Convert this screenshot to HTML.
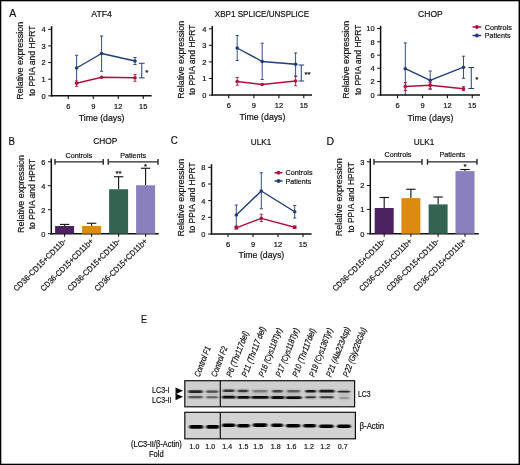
<!DOCTYPE html>
<html lang="en">
<head>
<meta charset="utf-8">
<title>Figure: ATF4, XBP1, CHOP, ULK1 expression and LC3 western blot</title>
<style>
html,body{margin:0;padding:0;background:#fff;}
body{width:520px;height:465px;overflow:hidden;}
svg{display:block;font-family:"Liberation Sans",sans-serif;}
</style>
</head>
<body>
<svg width="520" height="465" viewBox="0 0 520 465">
<rect x="0" y="0" width="520" height="465" fill="#ffffff"/>
<text x="9.30" y="16.90" font-size="11.3" text-anchor="start" fill="#101010" stroke="#101010" stroke-width="0.2" textLength="7.00" lengthAdjust="spacingAndGlyphs">A</text>
<text x="8.60" y="145.00" font-size="11.3" text-anchor="start" fill="#101010" stroke="#101010" stroke-width="0.2" textLength="6.40" lengthAdjust="spacingAndGlyphs">B</text>
<text x="170.70" y="144.40" font-size="11.3" text-anchor="start" fill="#101010" stroke="#101010" stroke-width="0.2" textLength="7.00" lengthAdjust="spacingAndGlyphs">C</text>
<text x="326.60" y="144.70" font-size="11.3" text-anchor="start" fill="#101010" stroke="#101010" stroke-width="0.2" textLength="7.60" lengthAdjust="spacingAndGlyphs">D</text>
<text x="141.00" y="322.50" font-size="11.3" text-anchor="start" fill="#101010" stroke="#101010" stroke-width="0.2" textLength="6.00" lengthAdjust="spacingAndGlyphs">E</text>
<text x="101.60" y="16.80" font-size="9.5" text-anchor="middle" fill="#101010" stroke="#101010" stroke-width="0.2" textLength="20.80" lengthAdjust="spacingAndGlyphs">ATF4</text>
<text x="23.20" y="60.80" font-size="9.5" text-anchor="middle" fill="#101010" stroke="#101010" stroke-width="0.2" textLength="77.80" lengthAdjust="spacingAndGlyphs" transform="rotate(-90 23.20 60.80)">Relative expression</text>
<text x="35.20" y="60.80" font-size="9.5" text-anchor="middle" fill="#101010" stroke="#101010" stroke-width="0.2" textLength="70.60" lengthAdjust="spacingAndGlyphs" transform="rotate(-90 35.20 60.80)">to PPIA and HPRT</text>
<line x1="51.60" y1="26.20" x2="51.60" y2="96.55" stroke="#101010" stroke-width="1.5" stroke-linecap="butt"/>
<line x1="50.85" y1="95.80" x2="151.60" y2="95.80" stroke="#101010" stroke-width="1.5" stroke-linecap="butt"/>
<line x1="48.20" y1="29.30" x2="51.60" y2="29.30" stroke="#101010" stroke-width="1.0" stroke-linecap="butt"/>
<text x="45.60" y="32.20" font-size="7.9" text-anchor="end" fill="#101010" stroke="#101010" stroke-width="0.2" textLength="4.15" lengthAdjust="spacingAndGlyphs">4</text>
<line x1="48.20" y1="45.90" x2="51.60" y2="45.90" stroke="#101010" stroke-width="1.0" stroke-linecap="butt"/>
<text x="45.60" y="48.80" font-size="7.9" text-anchor="end" fill="#101010" stroke="#101010" stroke-width="0.2" textLength="4.15" lengthAdjust="spacingAndGlyphs">3</text>
<line x1="48.20" y1="62.55" x2="51.60" y2="62.55" stroke="#101010" stroke-width="1.0" stroke-linecap="butt"/>
<text x="45.60" y="65.45" font-size="7.9" text-anchor="end" fill="#101010" stroke="#101010" stroke-width="0.2" textLength="4.15" lengthAdjust="spacingAndGlyphs">2</text>
<line x1="48.20" y1="79.20" x2="51.60" y2="79.20" stroke="#101010" stroke-width="1.0" stroke-linecap="butt"/>
<text x="45.60" y="82.10" font-size="7.9" text-anchor="end" fill="#101010" stroke="#101010" stroke-width="0.2" textLength="4.15" lengthAdjust="spacingAndGlyphs">1</text>
<line x1="48.20" y1="95.80" x2="51.60" y2="95.80" stroke="#101010" stroke-width="1.0" stroke-linecap="butt"/>
<text x="45.60" y="98.70" font-size="7.9" text-anchor="end" fill="#101010" stroke="#101010" stroke-width="0.2" textLength="4.15" lengthAdjust="spacingAndGlyphs">0</text>
<line x1="68.25" y1="95.80" x2="68.25" y2="98.90" stroke="#101010" stroke-width="1.1" stroke-linecap="butt"/>
<text x="68.25" y="108.80" font-size="7.9" text-anchor="middle" fill="#101010" stroke="#101010" stroke-width="0.2" textLength="4.15" lengthAdjust="spacingAndGlyphs">6</text>
<line x1="93.25" y1="95.80" x2="93.25" y2="98.90" stroke="#101010" stroke-width="1.1" stroke-linecap="butt"/>
<text x="93.25" y="108.80" font-size="7.9" text-anchor="middle" fill="#101010" stroke="#101010" stroke-width="0.2" textLength="4.15" lengthAdjust="spacingAndGlyphs">9</text>
<line x1="118.25" y1="95.80" x2="118.25" y2="98.90" stroke="#101010" stroke-width="1.1" stroke-linecap="butt"/>
<text x="118.25" y="108.80" font-size="7.9" text-anchor="middle" fill="#101010" stroke="#101010" stroke-width="0.2" textLength="8.30" lengthAdjust="spacingAndGlyphs">12</text>
<line x1="143.25" y1="95.80" x2="143.25" y2="98.90" stroke="#101010" stroke-width="1.1" stroke-linecap="butt"/>
<text x="143.25" y="108.80" font-size="7.9" text-anchor="middle" fill="#101010" stroke="#101010" stroke-width="0.2" textLength="8.30" lengthAdjust="spacingAndGlyphs">15</text>
<text x="101.60" y="120.70" font-size="9.5" text-anchor="middle" fill="#101010" stroke="#101010" stroke-width="0.2" textLength="45.80" lengthAdjust="spacingAndGlyphs">Time (days)</text>
<line x1="76.60" y1="55.25" x2="76.60" y2="82.50" stroke="#1f3d7a" stroke-width="0.9" stroke-linecap="butt"/>
<line x1="75.00" y1="55.25" x2="78.20" y2="55.25" stroke="#1f3d7a" stroke-width="0.9" stroke-linecap="butt"/>
<line x1="75.00" y1="82.50" x2="78.20" y2="82.50" stroke="#1f3d7a" stroke-width="0.9" stroke-linecap="butt"/>
<line x1="101.60" y1="36.00" x2="101.60" y2="71.25" stroke="#1f3d7a" stroke-width="0.9" stroke-linecap="butt"/>
<line x1="100.00" y1="36.00" x2="103.20" y2="36.00" stroke="#1f3d7a" stroke-width="0.9" stroke-linecap="butt"/>
<line x1="100.00" y1="71.25" x2="103.20" y2="71.25" stroke="#1f3d7a" stroke-width="0.9" stroke-linecap="butt"/>
<line x1="135.00" y1="57.50" x2="135.00" y2="64.50" stroke="#1f3d7a" stroke-width="0.9" stroke-linecap="butt"/>
<line x1="133.40" y1="57.50" x2="136.60" y2="57.50" stroke="#1f3d7a" stroke-width="0.9" stroke-linecap="butt"/>
<line x1="133.40" y1="64.50" x2="136.60" y2="64.50" stroke="#1f3d7a" stroke-width="0.9" stroke-linecap="butt"/>
<polyline points="76.60,68.00 101.60,53.50 135.00,61.00" fill="none" stroke="#1f3d7a" stroke-width="1.4" stroke-linejoin="round"/>
<circle cx="76.60" cy="68.00" r="1.8" fill="#1f3d7a"/>
<circle cx="101.60" cy="53.50" r="1.8" fill="#1f3d7a"/>
<circle cx="135.00" cy="61.00" r="1.8" fill="#1f3d7a"/>
<line x1="76.60" y1="81.00" x2="76.60" y2="86.25" stroke="#b0103c" stroke-width="0.9" stroke-linecap="butt"/>
<line x1="75.00" y1="81.00" x2="78.20" y2="81.00" stroke="#b0103c" stroke-width="0.9" stroke-linecap="butt"/>
<line x1="75.00" y1="86.25" x2="78.20" y2="86.25" stroke="#b0103c" stroke-width="0.9" stroke-linecap="butt"/>
<line x1="135.00" y1="74.50" x2="135.00" y2="81.25" stroke="#b0103c" stroke-width="0.9" stroke-linecap="butt"/>
<line x1="133.40" y1="74.50" x2="136.60" y2="74.50" stroke="#b0103c" stroke-width="0.9" stroke-linecap="butt"/>
<line x1="133.40" y1="81.25" x2="136.60" y2="81.25" stroke="#b0103c" stroke-width="0.9" stroke-linecap="butt"/>
<polyline points="76.60,83.25 101.60,77.25 135.00,77.75" fill="none" stroke="#b0103c" stroke-width="1.4" stroke-linejoin="round"/>
<circle cx="76.60" cy="83.25" r="1.8" fill="#b0103c"/>
<circle cx="101.60" cy="77.25" r="1.8" fill="#b0103c"/>
<circle cx="135.00" cy="77.75" r="1.8" fill="#b0103c"/>
<line x1="141.75" y1="63.25" x2="141.75" y2="77.90" stroke="#1f3d7a" stroke-width="1.0" stroke-linecap="butt"/>
<line x1="138.85" y1="63.25" x2="144.65" y2="63.25" stroke="#1f3d7a" stroke-width="1.0" stroke-linecap="butt"/>
<line x1="138.85" y1="77.90" x2="144.65" y2="77.90" stroke="#1f3d7a" stroke-width="1.0" stroke-linecap="butt"/>
<text x="146.90" y="74.98" font-size="8" text-anchor="middle" fill="#101010" stroke="#101010" stroke-width="0.2">*</text>
<text x="261.90" y="16.70" font-size="9.5" text-anchor="middle" fill="#101010" stroke="#101010" stroke-width="0.2" textLength="94.30" lengthAdjust="spacingAndGlyphs">XBP1 SPLICE/UNSPLICE</text>
<text x="184.00" y="59.80" font-size="9.5" text-anchor="middle" fill="#101010" stroke="#101010" stroke-width="0.2" textLength="77.80" lengthAdjust="spacingAndGlyphs" transform="rotate(-90 184.00 59.80)">Relative expression</text>
<text x="195.50" y="59.80" font-size="9.5" text-anchor="middle" fill="#101010" stroke="#101010" stroke-width="0.2" textLength="70.60" lengthAdjust="spacingAndGlyphs" transform="rotate(-90 195.50 59.80)">to PPIA and HPRT</text>
<line x1="212.30" y1="26.00" x2="212.30" y2="95.85" stroke="#101010" stroke-width="1.5" stroke-linecap="butt"/>
<line x1="211.55" y1="95.10" x2="312.00" y2="95.10" stroke="#101010" stroke-width="1.5" stroke-linecap="butt"/>
<line x1="208.90" y1="28.80" x2="212.30" y2="28.80" stroke="#101010" stroke-width="1.0" stroke-linecap="butt"/>
<text x="206.30" y="31.70" font-size="7.9" text-anchor="end" fill="#101010" stroke="#101010" stroke-width="0.2" textLength="4.15" lengthAdjust="spacingAndGlyphs">4</text>
<line x1="208.90" y1="45.30" x2="212.30" y2="45.30" stroke="#101010" stroke-width="1.0" stroke-linecap="butt"/>
<text x="206.30" y="48.20" font-size="7.9" text-anchor="end" fill="#101010" stroke="#101010" stroke-width="0.2" textLength="4.15" lengthAdjust="spacingAndGlyphs">3</text>
<line x1="208.90" y1="61.90" x2="212.30" y2="61.90" stroke="#101010" stroke-width="1.0" stroke-linecap="butt"/>
<text x="206.30" y="64.80" font-size="7.9" text-anchor="end" fill="#101010" stroke="#101010" stroke-width="0.2" textLength="4.15" lengthAdjust="spacingAndGlyphs">2</text>
<line x1="208.90" y1="78.50" x2="212.30" y2="78.50" stroke="#101010" stroke-width="1.0" stroke-linecap="butt"/>
<text x="206.30" y="81.40" font-size="7.9" text-anchor="end" fill="#101010" stroke="#101010" stroke-width="0.2" textLength="4.15" lengthAdjust="spacingAndGlyphs">1</text>
<line x1="208.90" y1="95.10" x2="212.30" y2="95.10" stroke="#101010" stroke-width="1.0" stroke-linecap="butt"/>
<text x="206.30" y="98.00" font-size="7.9" text-anchor="end" fill="#101010" stroke="#101010" stroke-width="0.2" textLength="4.15" lengthAdjust="spacingAndGlyphs">0</text>
<line x1="228.70" y1="95.10" x2="228.70" y2="98.20" stroke="#101010" stroke-width="1.1" stroke-linecap="butt"/>
<text x="228.70" y="108.10" font-size="7.9" text-anchor="middle" fill="#101010" stroke="#101010" stroke-width="0.2" textLength="4.15" lengthAdjust="spacingAndGlyphs">6</text>
<line x1="253.90" y1="95.10" x2="253.90" y2="98.20" stroke="#101010" stroke-width="1.1" stroke-linecap="butt"/>
<text x="253.90" y="108.10" font-size="7.9" text-anchor="middle" fill="#101010" stroke="#101010" stroke-width="0.2" textLength="4.15" lengthAdjust="spacingAndGlyphs">9</text>
<line x1="278.90" y1="95.10" x2="278.90" y2="98.20" stroke="#101010" stroke-width="1.1" stroke-linecap="butt"/>
<text x="278.90" y="108.10" font-size="7.9" text-anchor="middle" fill="#101010" stroke="#101010" stroke-width="0.2" textLength="8.30" lengthAdjust="spacingAndGlyphs">12</text>
<line x1="303.80" y1="95.10" x2="303.80" y2="98.20" stroke="#101010" stroke-width="1.1" stroke-linecap="butt"/>
<text x="303.80" y="108.10" font-size="7.9" text-anchor="middle" fill="#101010" stroke="#101010" stroke-width="0.2" textLength="8.30" lengthAdjust="spacingAndGlyphs">15</text>
<text x="262.50" y="119.60" font-size="9.5" text-anchor="middle" fill="#101010" stroke="#101010" stroke-width="0.2" textLength="45.80" lengthAdjust="spacingAndGlyphs">Time (days)</text>
<line x1="237.20" y1="35.50" x2="237.20" y2="60.50" stroke="#1f3d7a" stroke-width="0.9" stroke-linecap="butt"/>
<line x1="235.60" y1="35.50" x2="238.80" y2="35.50" stroke="#1f3d7a" stroke-width="0.9" stroke-linecap="butt"/>
<line x1="235.60" y1="60.50" x2="238.80" y2="60.50" stroke="#1f3d7a" stroke-width="0.9" stroke-linecap="butt"/>
<line x1="262.20" y1="43.25" x2="262.20" y2="79.50" stroke="#1f3d7a" stroke-width="0.9" stroke-linecap="butt"/>
<line x1="260.60" y1="43.25" x2="263.80" y2="43.25" stroke="#1f3d7a" stroke-width="0.9" stroke-linecap="butt"/>
<line x1="260.60" y1="79.50" x2="263.80" y2="79.50" stroke="#1f3d7a" stroke-width="0.9" stroke-linecap="butt"/>
<line x1="295.60" y1="53.00" x2="295.60" y2="76.25" stroke="#1f3d7a" stroke-width="0.9" stroke-linecap="butt"/>
<line x1="294.00" y1="53.00" x2="297.20" y2="53.00" stroke="#1f3d7a" stroke-width="0.9" stroke-linecap="butt"/>
<line x1="294.00" y1="76.25" x2="297.20" y2="76.25" stroke="#1f3d7a" stroke-width="0.9" stroke-linecap="butt"/>
<polyline points="237.20,48.00 262.20,61.50 295.60,64.25" fill="none" stroke="#1f3d7a" stroke-width="1.4" stroke-linejoin="round"/>
<circle cx="237.20" cy="48.00" r="1.8" fill="#1f3d7a"/>
<circle cx="262.20" cy="61.50" r="1.8" fill="#1f3d7a"/>
<circle cx="295.60" cy="64.25" r="1.8" fill="#1f3d7a"/>
<line x1="237.20" y1="77.50" x2="237.20" y2="85.25" stroke="#b0103c" stroke-width="0.9" stroke-linecap="butt"/>
<line x1="235.60" y1="77.50" x2="238.80" y2="77.50" stroke="#b0103c" stroke-width="0.9" stroke-linecap="butt"/>
<line x1="235.60" y1="85.25" x2="238.80" y2="85.25" stroke="#b0103c" stroke-width="0.9" stroke-linecap="butt"/>
<line x1="295.60" y1="76.25" x2="295.60" y2="85.75" stroke="#b0103c" stroke-width="0.9" stroke-linecap="butt"/>
<line x1="294.00" y1="76.25" x2="297.20" y2="76.25" stroke="#b0103c" stroke-width="0.9" stroke-linecap="butt"/>
<line x1="294.00" y1="85.75" x2="297.20" y2="85.75" stroke="#b0103c" stroke-width="0.9" stroke-linecap="butt"/>
<polyline points="237.20,81.50 262.20,84.50 295.60,81.00" fill="none" stroke="#b0103c" stroke-width="1.4" stroke-linejoin="round"/>
<circle cx="237.20" cy="81.50" r="1.8" fill="#b0103c"/>
<circle cx="262.20" cy="84.50" r="1.8" fill="#b0103c"/>
<circle cx="295.60" cy="81.00" r="1.8" fill="#b0103c"/>
<line x1="301.25" y1="65.00" x2="301.25" y2="81.00" stroke="#1f3d7a" stroke-width="1.0" stroke-linecap="butt"/>
<line x1="298.35" y1="65.00" x2="304.15" y2="65.00" stroke="#1f3d7a" stroke-width="1.0" stroke-linecap="butt"/>
<line x1="298.35" y1="81.00" x2="304.15" y2="81.00" stroke="#1f3d7a" stroke-width="1.0" stroke-linecap="butt"/>
<text x="307.60" y="77.40" font-size="8" text-anchor="middle" fill="#101010" stroke="#101010" stroke-width="0.2">**</text>
<text x="430.40" y="16.70" font-size="9.5" text-anchor="middle" fill="#101010" stroke="#101010" stroke-width="0.2" textLength="24.60" lengthAdjust="spacingAndGlyphs">CHOP</text>
<text x="349.10" y="59.80" font-size="9.5" text-anchor="middle" fill="#101010" stroke="#101010" stroke-width="0.2" textLength="77.80" lengthAdjust="spacingAndGlyphs" transform="rotate(-90 349.10 59.80)">Relative expression</text>
<text x="360.70" y="59.80" font-size="9.5" text-anchor="middle" fill="#101010" stroke="#101010" stroke-width="0.2" textLength="70.60" lengthAdjust="spacingAndGlyphs" transform="rotate(-90 360.70 59.80)">to PPIA and HPRT</text>
<line x1="380.60" y1="25.80" x2="380.60" y2="95.85" stroke="#101010" stroke-width="1.5" stroke-linecap="butt"/>
<line x1="379.85" y1="95.10" x2="480.00" y2="95.10" stroke="#101010" stroke-width="1.5" stroke-linecap="butt"/>
<line x1="377.20" y1="28.50" x2="380.60" y2="28.50" stroke="#101010" stroke-width="1.0" stroke-linecap="butt"/>
<text x="374.60" y="31.40" font-size="7.9" text-anchor="end" fill="#101010" stroke="#101010" stroke-width="0.2" textLength="8.30" lengthAdjust="spacingAndGlyphs">10</text>
<line x1="377.20" y1="41.80" x2="380.60" y2="41.80" stroke="#101010" stroke-width="1.0" stroke-linecap="butt"/>
<text x="374.60" y="44.70" font-size="7.9" text-anchor="end" fill="#101010" stroke="#101010" stroke-width="0.2" textLength="4.15" lengthAdjust="spacingAndGlyphs">8</text>
<line x1="377.20" y1="55.15" x2="380.60" y2="55.15" stroke="#101010" stroke-width="1.0" stroke-linecap="butt"/>
<text x="374.60" y="58.05" font-size="7.9" text-anchor="end" fill="#101010" stroke="#101010" stroke-width="0.2" textLength="4.15" lengthAdjust="spacingAndGlyphs">6</text>
<line x1="377.20" y1="68.20" x2="380.60" y2="68.20" stroke="#101010" stroke-width="1.0" stroke-linecap="butt"/>
<text x="374.60" y="71.10" font-size="7.9" text-anchor="end" fill="#101010" stroke="#101010" stroke-width="0.2" textLength="4.15" lengthAdjust="spacingAndGlyphs">4</text>
<line x1="377.20" y1="81.50" x2="380.60" y2="81.50" stroke="#101010" stroke-width="1.0" stroke-linecap="butt"/>
<text x="374.60" y="84.40" font-size="7.9" text-anchor="end" fill="#101010" stroke="#101010" stroke-width="0.2" textLength="4.15" lengthAdjust="spacingAndGlyphs">2</text>
<line x1="377.20" y1="95.10" x2="380.60" y2="95.10" stroke="#101010" stroke-width="1.0" stroke-linecap="butt"/>
<text x="374.60" y="98.00" font-size="7.9" text-anchor="end" fill="#101010" stroke="#101010" stroke-width="0.2" textLength="4.15" lengthAdjust="spacingAndGlyphs">0</text>
<line x1="397.50" y1="95.10" x2="397.50" y2="98.20" stroke="#101010" stroke-width="1.1" stroke-linecap="butt"/>
<text x="397.50" y="108.10" font-size="7.9" text-anchor="middle" fill="#101010" stroke="#101010" stroke-width="0.2" textLength="4.15" lengthAdjust="spacingAndGlyphs">6</text>
<line x1="422.50" y1="95.10" x2="422.50" y2="98.20" stroke="#101010" stroke-width="1.1" stroke-linecap="butt"/>
<text x="422.50" y="108.10" font-size="7.9" text-anchor="middle" fill="#101010" stroke="#101010" stroke-width="0.2" textLength="4.15" lengthAdjust="spacingAndGlyphs">9</text>
<line x1="447.40" y1="95.10" x2="447.40" y2="98.20" stroke="#101010" stroke-width="1.1" stroke-linecap="butt"/>
<text x="447.40" y="108.10" font-size="7.9" text-anchor="middle" fill="#101010" stroke="#101010" stroke-width="0.2" textLength="8.30" lengthAdjust="spacingAndGlyphs">12</text>
<line x1="472.25" y1="95.10" x2="472.25" y2="98.20" stroke="#101010" stroke-width="1.1" stroke-linecap="butt"/>
<text x="472.25" y="108.10" font-size="7.9" text-anchor="middle" fill="#101010" stroke="#101010" stroke-width="0.2" textLength="8.30" lengthAdjust="spacingAndGlyphs">15</text>
<text x="430.50" y="120.70" font-size="9.5" text-anchor="middle" fill="#101010" stroke="#101010" stroke-width="0.2" textLength="45.80" lengthAdjust="spacingAndGlyphs">Time (days)</text>
<line x1="405.30" y1="42.90" x2="405.30" y2="95.00" stroke="#1f3d7a" stroke-width="0.9" stroke-linecap="butt"/>
<line x1="403.70" y1="42.90" x2="406.90" y2="42.90" stroke="#1f3d7a" stroke-width="0.9" stroke-linecap="butt"/>
<line x1="403.70" y1="95.00" x2="406.90" y2="95.00" stroke="#1f3d7a" stroke-width="0.9" stroke-linecap="butt"/>
<line x1="430.20" y1="71.00" x2="430.20" y2="89.20" stroke="#1f3d7a" stroke-width="0.9" stroke-linecap="butt"/>
<line x1="428.60" y1="71.00" x2="431.80" y2="71.00" stroke="#1f3d7a" stroke-width="0.9" stroke-linecap="butt"/>
<line x1="428.60" y1="89.20" x2="431.80" y2="89.20" stroke="#1f3d7a" stroke-width="0.9" stroke-linecap="butt"/>
<line x1="463.50" y1="56.20" x2="463.50" y2="78.30" stroke="#1f3d7a" stroke-width="0.9" stroke-linecap="butt"/>
<line x1="461.90" y1="56.20" x2="465.10" y2="56.20" stroke="#1f3d7a" stroke-width="0.9" stroke-linecap="butt"/>
<line x1="461.90" y1="78.30" x2="465.10" y2="78.30" stroke="#1f3d7a" stroke-width="0.9" stroke-linecap="butt"/>
<polyline points="405.30,68.70 430.20,80.30 463.50,67.20" fill="none" stroke="#1f3d7a" stroke-width="1.4" stroke-linejoin="round"/>
<circle cx="405.30" cy="68.70" r="1.8" fill="#1f3d7a"/>
<circle cx="430.20" cy="80.30" r="1.8" fill="#1f3d7a"/>
<circle cx="463.50" cy="67.20" r="1.8" fill="#1f3d7a"/>
<line x1="405.30" y1="82.60" x2="405.30" y2="90.50" stroke="#b0103c" stroke-width="0.9" stroke-linecap="butt"/>
<line x1="403.70" y1="82.60" x2="406.90" y2="82.60" stroke="#b0103c" stroke-width="0.9" stroke-linecap="butt"/>
<line x1="403.70" y1="90.50" x2="406.90" y2="90.50" stroke="#b0103c" stroke-width="0.9" stroke-linecap="butt"/>
<line x1="430.20" y1="82.60" x2="430.20" y2="89.00" stroke="#b0103c" stroke-width="0.9" stroke-linecap="butt"/>
<line x1="428.60" y1="82.60" x2="431.80" y2="82.60" stroke="#b0103c" stroke-width="0.9" stroke-linecap="butt"/>
<line x1="428.60" y1="89.00" x2="431.80" y2="89.00" stroke="#b0103c" stroke-width="0.9" stroke-linecap="butt"/>
<line x1="463.50" y1="86.70" x2="463.50" y2="90.70" stroke="#b0103c" stroke-width="0.9" stroke-linecap="butt"/>
<line x1="461.90" y1="86.70" x2="465.10" y2="86.70" stroke="#b0103c" stroke-width="0.9" stroke-linecap="butt"/>
<line x1="461.90" y1="90.70" x2="465.10" y2="90.70" stroke="#b0103c" stroke-width="0.9" stroke-linecap="butt"/>
<polyline points="405.30,86.45 430.20,85.30 463.50,88.70" fill="none" stroke="#b0103c" stroke-width="1.4" stroke-linejoin="round"/>
<circle cx="405.30" cy="86.45" r="1.8" fill="#b0103c"/>
<circle cx="430.20" cy="85.30" r="1.8" fill="#b0103c"/>
<circle cx="463.50" cy="88.70" r="1.8" fill="#b0103c"/>
<line x1="471.25" y1="67.50" x2="471.25" y2="88.50" stroke="#1f3d7a" stroke-width="1.0" stroke-linecap="butt"/>
<line x1="468.35" y1="67.50" x2="474.15" y2="67.50" stroke="#1f3d7a" stroke-width="1.0" stroke-linecap="butt"/>
<line x1="468.35" y1="88.50" x2="474.15" y2="88.50" stroke="#1f3d7a" stroke-width="1.0" stroke-linecap="butt"/>
<text x="476.90" y="82.40" font-size="8" text-anchor="middle" fill="#101010" stroke="#101010" stroke-width="0.2">*</text>
<line x1="472.50" y1="27.00" x2="481.25" y2="27.00" stroke="#b0103c" stroke-width="1.5" stroke-linecap="butt"/>
<circle cx="476.88" cy="27.00" r="1.9" fill="#b0103c"/>
<text x="484.80" y="29.50" font-size="7.8" text-anchor="start" fill="#101010" stroke="#101010" stroke-width="0.2" textLength="27.00" lengthAdjust="spacingAndGlyphs">Controls</text>
<line x1="472.50" y1="35.50" x2="481.25" y2="35.50" stroke="#1f3d7a" stroke-width="1.5" stroke-linecap="butt"/>
<circle cx="476.88" cy="35.50" r="1.9" fill="#1f3d7a"/>
<text x="484.80" y="38.00" font-size="7.8" text-anchor="start" fill="#101010" stroke="#101010" stroke-width="0.2" textLength="25.80" lengthAdjust="spacingAndGlyphs">Patients</text>
<text x="105.20" y="144.40" font-size="9.5" text-anchor="middle" fill="#101010" stroke="#101010" stroke-width="0.2" textLength="24.00" lengthAdjust="spacingAndGlyphs">CHOP</text>
<text x="23.60" y="194.00" font-size="9.5" text-anchor="middle" fill="#101010" stroke="#101010" stroke-width="0.2" textLength="77.80" lengthAdjust="spacingAndGlyphs" transform="rotate(-90 23.60 194.00)">Relative expression</text>
<text x="35.40" y="194.00" font-size="9.5" text-anchor="middle" fill="#101010" stroke="#101010" stroke-width="0.2" textLength="70.60" lengthAdjust="spacingAndGlyphs" transform="rotate(-90 35.40 194.00)">to PPIA and HPRT</text>
<line x1="51.30" y1="158.50" x2="51.30" y2="234.45" stroke="#101010" stroke-width="1.5" stroke-linecap="butt"/>
<line x1="50.55" y1="233.70" x2="158.75" y2="233.70" stroke="#101010" stroke-width="1.5" stroke-linecap="butt"/>
<line x1="47.90" y1="161.80" x2="51.30" y2="161.80" stroke="#101010" stroke-width="1.0" stroke-linecap="butt"/>
<text x="45.30" y="164.70" font-size="7.9" text-anchor="end" fill="#101010" stroke="#101010" stroke-width="0.2" textLength="4.15" lengthAdjust="spacingAndGlyphs">6</text>
<line x1="47.90" y1="185.70" x2="51.30" y2="185.70" stroke="#101010" stroke-width="1.0" stroke-linecap="butt"/>
<text x="45.30" y="188.60" font-size="7.9" text-anchor="end" fill="#101010" stroke="#101010" stroke-width="0.2" textLength="4.15" lengthAdjust="spacingAndGlyphs">4</text>
<line x1="47.90" y1="209.70" x2="51.30" y2="209.70" stroke="#101010" stroke-width="1.0" stroke-linecap="butt"/>
<text x="45.30" y="212.60" font-size="7.9" text-anchor="end" fill="#101010" stroke="#101010" stroke-width="0.2" textLength="4.15" lengthAdjust="spacingAndGlyphs">2</text>
<line x1="47.90" y1="233.70" x2="51.30" y2="233.70" stroke="#101010" stroke-width="1.0" stroke-linecap="butt"/>
<text x="45.30" y="236.60" font-size="7.9" text-anchor="end" fill="#101010" stroke="#101010" stroke-width="0.2" textLength="4.15" lengthAdjust="spacingAndGlyphs">0</text>
<line x1="64.60" y1="233.70" x2="64.60" y2="236.70" stroke="#101010" stroke-width="1.1" stroke-linecap="butt"/>
<line x1="91.60" y1="233.70" x2="91.60" y2="236.70" stroke="#101010" stroke-width="1.1" stroke-linecap="butt"/>
<line x1="118.60" y1="233.70" x2="118.60" y2="236.70" stroke="#101010" stroke-width="1.1" stroke-linecap="butt"/>
<line x1="145.60" y1="233.70" x2="145.60" y2="236.70" stroke="#101010" stroke-width="1.1" stroke-linecap="butt"/>
<line x1="64.60" y1="224.40" x2="64.60" y2="226.00" stroke="#101010" stroke-width="1.1" stroke-linecap="butt"/>
<line x1="59.90" y1="224.40" x2="69.30" y2="224.40" stroke="#101010" stroke-width="1.1" stroke-linecap="butt"/>
<rect x="55.10" y="226.00" width="19.00" height="7.70" fill="#4d2260"/>
<line x1="91.60" y1="223.25" x2="91.60" y2="226.00" stroke="#101010" stroke-width="1.1" stroke-linecap="butt"/>
<line x1="86.90" y1="223.25" x2="96.30" y2="223.25" stroke="#101010" stroke-width="1.1" stroke-linecap="butt"/>
<rect x="82.10" y="226.00" width="19.00" height="7.70" fill="#dc8a14"/>
<line x1="118.60" y1="176.75" x2="118.60" y2="189.25" stroke="#101010" stroke-width="1.1" stroke-linecap="butt"/>
<line x1="113.90" y1="176.75" x2="123.30" y2="176.75" stroke="#101010" stroke-width="1.1" stroke-linecap="butt"/>
<rect x="109.10" y="189.25" width="19.00" height="44.45" fill="#326451"/>
<line x1="145.60" y1="168.25" x2="145.60" y2="185.25" stroke="#101010" stroke-width="1.1" stroke-linecap="butt"/>
<line x1="140.90" y1="168.25" x2="150.30" y2="168.25" stroke="#101010" stroke-width="1.1" stroke-linecap="butt"/>
<rect x="136.10" y="185.25" width="19.00" height="48.45" fill="#8a80be"/>
<line x1="55.00" y1="161.90" x2="103.25" y2="161.90" stroke="#262626" stroke-width="1.4" stroke-linecap="butt"/>
<line x1="55.00" y1="159.10" x2="55.00" y2="164.70" stroke="#262626" stroke-width="1.4" stroke-linecap="butt"/>
<line x1="103.25" y1="159.10" x2="103.25" y2="164.70" stroke="#262626" stroke-width="1.4" stroke-linecap="butt"/>
<text x="78.90" y="157.80" font-size="8.0" text-anchor="middle" fill="#101010" stroke="#101010" stroke-width="0.2" textLength="26.90" lengthAdjust="spacingAndGlyphs">Controls</text>
<line x1="108.25" y1="161.90" x2="158.00" y2="161.90" stroke="#262626" stroke-width="1.4" stroke-linecap="butt"/>
<line x1="108.25" y1="159.10" x2="108.25" y2="164.70" stroke="#262626" stroke-width="1.4" stroke-linecap="butt"/>
<line x1="158.00" y1="159.10" x2="158.00" y2="164.70" stroke="#262626" stroke-width="1.4" stroke-linecap="butt"/>
<text x="133.20" y="157.80" font-size="8.0" text-anchor="middle" fill="#101010" stroke="#101010" stroke-width="0.2" textLength="25.90" lengthAdjust="spacingAndGlyphs">Patients</text>
<text x="118.60" y="176.20" font-size="8" text-anchor="middle" fill="#101010" stroke="#101010" stroke-width="0.2">**</text>
<text x="145.60" y="168.70" font-size="8" text-anchor="middle" fill="#101010" stroke="#101010" stroke-width="0.2">*</text>
<text x="66.80" y="241.80" font-size="8.2" text-anchor="end" fill="#101010" stroke="#101010" stroke-width="0.2" textLength="70.80" lengthAdjust="spacingAndGlyphs" transform="rotate(-45 66.80 241.80)">CD36-CD15+CD11b-</text>
<text x="93.80" y="241.80" font-size="8.2" text-anchor="end" fill="#101010" stroke="#101010" stroke-width="0.2" textLength="70.80" lengthAdjust="spacingAndGlyphs" transform="rotate(-45 93.80 241.80)">CD36-CD15+CD11b+</text>
<text x="120.80" y="241.80" font-size="8.2" text-anchor="end" fill="#101010" stroke="#101010" stroke-width="0.2" textLength="70.80" lengthAdjust="spacingAndGlyphs" transform="rotate(-45 120.80 241.80)">CD36-CD15+CD11b-</text>
<text x="147.80" y="241.80" font-size="8.2" text-anchor="end" fill="#101010" stroke="#101010" stroke-width="0.2" textLength="70.80" lengthAdjust="spacingAndGlyphs" transform="rotate(-45 147.80 241.80)">CD36-CD15+CD11b+</text>
<text x="261.00" y="144.70" font-size="9.5" text-anchor="middle" fill="#101010" stroke="#101010" stroke-width="0.2" textLength="20.50" lengthAdjust="spacingAndGlyphs">ULK1</text>
<text x="183.90" y="197.60" font-size="9.5" text-anchor="middle" fill="#101010" stroke="#101010" stroke-width="0.2" textLength="77.80" lengthAdjust="spacingAndGlyphs" transform="rotate(-90 183.90 197.60)">Relative expression</text>
<text x="195.20" y="197.60" font-size="9.5" text-anchor="middle" fill="#101010" stroke="#101010" stroke-width="0.2" textLength="70.60" lengthAdjust="spacingAndGlyphs" transform="rotate(-90 195.20 197.60)">to PPIA and HPRT</text>
<line x1="211.50" y1="164.20" x2="211.50" y2="234.75" stroke="#101010" stroke-width="1.5" stroke-linecap="butt"/>
<line x1="210.75" y1="234.00" x2="311.60" y2="234.00" stroke="#101010" stroke-width="1.5" stroke-linecap="butt"/>
<line x1="208.10" y1="167.30" x2="211.50" y2="167.30" stroke="#101010" stroke-width="1.0" stroke-linecap="butt"/>
<text x="205.50" y="170.20" font-size="7.9" text-anchor="end" fill="#101010" stroke="#101010" stroke-width="0.2" textLength="4.15" lengthAdjust="spacingAndGlyphs">8</text>
<line x1="208.10" y1="184.00" x2="211.50" y2="184.00" stroke="#101010" stroke-width="1.0" stroke-linecap="butt"/>
<text x="205.50" y="186.90" font-size="7.9" text-anchor="end" fill="#101010" stroke="#101010" stroke-width="0.2" textLength="4.15" lengthAdjust="spacingAndGlyphs">6</text>
<line x1="208.10" y1="200.60" x2="211.50" y2="200.60" stroke="#101010" stroke-width="1.0" stroke-linecap="butt"/>
<text x="205.50" y="203.50" font-size="7.9" text-anchor="end" fill="#101010" stroke="#101010" stroke-width="0.2" textLength="4.15" lengthAdjust="spacingAndGlyphs">4</text>
<line x1="208.10" y1="217.30" x2="211.50" y2="217.30" stroke="#101010" stroke-width="1.0" stroke-linecap="butt"/>
<text x="205.50" y="220.20" font-size="7.9" text-anchor="end" fill="#101010" stroke="#101010" stroke-width="0.2" textLength="4.15" lengthAdjust="spacingAndGlyphs">2</text>
<line x1="208.10" y1="234.00" x2="211.50" y2="234.00" stroke="#101010" stroke-width="1.0" stroke-linecap="butt"/>
<text x="205.50" y="236.90" font-size="7.9" text-anchor="end" fill="#101010" stroke="#101010" stroke-width="0.2" textLength="4.15" lengthAdjust="spacingAndGlyphs">0</text>
<line x1="228.00" y1="234.00" x2="228.00" y2="237.10" stroke="#101010" stroke-width="1.1" stroke-linecap="butt"/>
<text x="228.00" y="247.00" font-size="7.9" text-anchor="middle" fill="#101010" stroke="#101010" stroke-width="0.2" textLength="4.15" lengthAdjust="spacingAndGlyphs">6</text>
<line x1="253.00" y1="234.00" x2="253.00" y2="237.10" stroke="#101010" stroke-width="1.1" stroke-linecap="butt"/>
<text x="253.00" y="247.00" font-size="7.9" text-anchor="middle" fill="#101010" stroke="#101010" stroke-width="0.2" textLength="4.15" lengthAdjust="spacingAndGlyphs">9</text>
<line x1="278.00" y1="234.00" x2="278.00" y2="237.10" stroke="#101010" stroke-width="1.1" stroke-linecap="butt"/>
<text x="278.00" y="247.00" font-size="7.9" text-anchor="middle" fill="#101010" stroke="#101010" stroke-width="0.2" textLength="8.30" lengthAdjust="spacingAndGlyphs">12</text>
<line x1="303.00" y1="234.00" x2="303.00" y2="237.10" stroke="#101010" stroke-width="1.1" stroke-linecap="butt"/>
<text x="303.00" y="247.00" font-size="7.9" text-anchor="middle" fill="#101010" stroke="#101010" stroke-width="0.2" textLength="8.30" lengthAdjust="spacingAndGlyphs">15</text>
<text x="261.30" y="258.10" font-size="9.5" text-anchor="middle" fill="#101010" stroke="#101010" stroke-width="0.2" textLength="45.80" lengthAdjust="spacingAndGlyphs">Time (days)</text>
<line x1="236.30" y1="205.00" x2="236.30" y2="226.00" stroke="#1f3d7a" stroke-width="0.9" stroke-linecap="butt"/>
<line x1="234.70" y1="205.00" x2="237.90" y2="205.00" stroke="#1f3d7a" stroke-width="0.9" stroke-linecap="butt"/>
<line x1="234.70" y1="226.00" x2="237.90" y2="226.00" stroke="#1f3d7a" stroke-width="0.9" stroke-linecap="butt"/>
<line x1="261.30" y1="172.75" x2="261.30" y2="208.75" stroke="#1f3d7a" stroke-width="0.9" stroke-linecap="butt"/>
<line x1="259.70" y1="172.75" x2="262.90" y2="172.75" stroke="#1f3d7a" stroke-width="0.9" stroke-linecap="butt"/>
<line x1="259.70" y1="208.75" x2="262.90" y2="208.75" stroke="#1f3d7a" stroke-width="0.9" stroke-linecap="butt"/>
<line x1="294.70" y1="205.50" x2="294.70" y2="218.00" stroke="#1f3d7a" stroke-width="0.9" stroke-linecap="butt"/>
<line x1="293.10" y1="205.50" x2="296.30" y2="205.50" stroke="#1f3d7a" stroke-width="0.9" stroke-linecap="butt"/>
<line x1="293.10" y1="218.00" x2="296.30" y2="218.00" stroke="#1f3d7a" stroke-width="0.9" stroke-linecap="butt"/>
<polyline points="236.30,215.00 261.30,191.00 294.70,211.75" fill="none" stroke="#1f3d7a" stroke-width="1.4" stroke-linejoin="round"/>
<circle cx="236.30" cy="215.00" r="1.8" fill="#1f3d7a"/>
<circle cx="261.30" cy="191.00" r="1.8" fill="#1f3d7a"/>
<circle cx="294.70" cy="211.75" r="1.8" fill="#1f3d7a"/>
<line x1="261.30" y1="214.30" x2="261.30" y2="221.60" stroke="#b0103c" stroke-width="0.9" stroke-linecap="butt"/>
<line x1="259.70" y1="214.30" x2="262.90" y2="214.30" stroke="#b0103c" stroke-width="0.9" stroke-linecap="butt"/>
<line x1="259.70" y1="221.60" x2="262.90" y2="221.60" stroke="#b0103c" stroke-width="0.9" stroke-linecap="butt"/>
<polyline points="236.30,227.80 261.30,218.35 294.70,227.20" fill="none" stroke="#b0103c" stroke-width="1.4" stroke-linejoin="round"/>
<rect x="234.50" y="226.00" width="3.6" height="3.6" fill="#b0103c"/>
<circle cx="261.30" cy="218.35" r="1.8" fill="#b0103c"/>
<rect x="292.90" y="225.40" width="3.6" height="3.6" fill="#b0103c"/>
<line x1="274.50" y1="172.75" x2="282.50" y2="172.75" stroke="#b0103c" stroke-width="1.5" stroke-linecap="butt"/>
<circle cx="278.50" cy="172.75" r="1.9" fill="#b0103c"/>
<text x="285.55" y="175.25" font-size="7.8" text-anchor="start" fill="#101010" stroke="#101010" stroke-width="0.2" textLength="27.00" lengthAdjust="spacingAndGlyphs">Controls</text>
<line x1="274.50" y1="181.00" x2="282.50" y2="181.00" stroke="#1f3d7a" stroke-width="1.5" stroke-linecap="butt"/>
<circle cx="278.50" cy="181.00" r="1.9" fill="#1f3d7a"/>
<text x="285.55" y="183.50" font-size="7.8" text-anchor="start" fill="#101010" stroke="#101010" stroke-width="0.2" textLength="25.80" lengthAdjust="spacingAndGlyphs">Patients</text>
<text x="424.00" y="144.70" font-size="9.5" text-anchor="middle" fill="#101010" stroke="#101010" stroke-width="0.2" textLength="20.50" lengthAdjust="spacingAndGlyphs">ULK1</text>
<text x="342.50" y="197.30" font-size="9.5" text-anchor="middle" fill="#101010" stroke="#101010" stroke-width="0.2" textLength="77.80" lengthAdjust="spacingAndGlyphs" transform="rotate(-90 342.50 197.30)">Relative expression</text>
<text x="354.30" y="197.30" font-size="9.5" text-anchor="middle" fill="#101010" stroke="#101010" stroke-width="0.2" textLength="70.60" lengthAdjust="spacingAndGlyphs" transform="rotate(-90 354.30 197.30)">to PPIA and HPRT</text>
<line x1="370.30" y1="158.50" x2="370.30" y2="234.45" stroke="#101010" stroke-width="1.5" stroke-linecap="butt"/>
<line x1="369.55" y1="233.70" x2="478.75" y2="233.70" stroke="#101010" stroke-width="1.5" stroke-linecap="butt"/>
<line x1="366.90" y1="161.80" x2="370.30" y2="161.80" stroke="#101010" stroke-width="1.0" stroke-linecap="butt"/>
<text x="364.30" y="164.70" font-size="7.9" text-anchor="end" fill="#101010" stroke="#101010" stroke-width="0.2" textLength="4.15" lengthAdjust="spacingAndGlyphs">3</text>
<line x1="366.90" y1="185.50" x2="370.30" y2="185.50" stroke="#101010" stroke-width="1.0" stroke-linecap="butt"/>
<text x="364.30" y="188.40" font-size="7.9" text-anchor="end" fill="#101010" stroke="#101010" stroke-width="0.2" textLength="4.15" lengthAdjust="spacingAndGlyphs">2</text>
<line x1="366.90" y1="209.40" x2="370.30" y2="209.40" stroke="#101010" stroke-width="1.0" stroke-linecap="butt"/>
<text x="364.30" y="212.30" font-size="7.9" text-anchor="end" fill="#101010" stroke="#101010" stroke-width="0.2" textLength="4.15" lengthAdjust="spacingAndGlyphs">1</text>
<line x1="366.90" y1="233.70" x2="370.30" y2="233.70" stroke="#101010" stroke-width="1.0" stroke-linecap="butt"/>
<text x="364.30" y="236.60" font-size="7.9" text-anchor="end" fill="#101010" stroke="#101010" stroke-width="0.2" textLength="4.15" lengthAdjust="spacingAndGlyphs">0</text>
<line x1="384.20" y1="233.70" x2="384.20" y2="236.70" stroke="#101010" stroke-width="1.1" stroke-linecap="butt"/>
<line x1="410.90" y1="233.70" x2="410.90" y2="236.70" stroke="#101010" stroke-width="1.1" stroke-linecap="butt"/>
<line x1="438.10" y1="233.70" x2="438.10" y2="236.70" stroke="#101010" stroke-width="1.1" stroke-linecap="butt"/>
<line x1="465.00" y1="233.70" x2="465.00" y2="236.70" stroke="#101010" stroke-width="1.1" stroke-linecap="butt"/>
<line x1="384.20" y1="197.50" x2="384.20" y2="208.00" stroke="#101010" stroke-width="1.1" stroke-linecap="butt"/>
<line x1="379.50" y1="197.50" x2="388.90" y2="197.50" stroke="#101010" stroke-width="1.1" stroke-linecap="butt"/>
<rect x="374.70" y="208.00" width="19.00" height="25.70" fill="#4d2260"/>
<line x1="410.90" y1="189.25" x2="410.90" y2="198.10" stroke="#101010" stroke-width="1.1" stroke-linecap="butt"/>
<line x1="406.20" y1="189.25" x2="415.60" y2="189.25" stroke="#101010" stroke-width="1.1" stroke-linecap="butt"/>
<rect x="401.40" y="198.10" width="19.00" height="35.60" fill="#dc8a14"/>
<line x1="438.10" y1="197.00" x2="438.10" y2="204.40" stroke="#101010" stroke-width="1.1" stroke-linecap="butt"/>
<line x1="433.40" y1="197.00" x2="442.80" y2="197.00" stroke="#101010" stroke-width="1.1" stroke-linecap="butt"/>
<rect x="428.60" y="204.40" width="19.00" height="29.30" fill="#326451"/>
<line x1="465.00" y1="169.50" x2="465.00" y2="171.10" stroke="#101010" stroke-width="1.1" stroke-linecap="butt"/>
<line x1="460.30" y1="169.50" x2="469.70" y2="169.50" stroke="#101010" stroke-width="1.1" stroke-linecap="butt"/>
<rect x="455.50" y="171.10" width="19.00" height="62.60" fill="#8a80be"/>
<line x1="374.00" y1="161.90" x2="422.00" y2="161.90" stroke="#262626" stroke-width="1.4" stroke-linecap="butt"/>
<line x1="374.00" y1="159.10" x2="374.00" y2="164.70" stroke="#262626" stroke-width="1.4" stroke-linecap="butt"/>
<line x1="422.00" y1="159.10" x2="422.00" y2="164.70" stroke="#262626" stroke-width="1.4" stroke-linecap="butt"/>
<text x="398.00" y="157.10" font-size="8.0" text-anchor="middle" fill="#101010" stroke="#101010" stroke-width="0.2" textLength="26.90" lengthAdjust="spacingAndGlyphs">Controls</text>
<line x1="427.50" y1="161.90" x2="477.00" y2="161.90" stroke="#262626" stroke-width="1.4" stroke-linecap="butt"/>
<line x1="427.50" y1="159.10" x2="427.50" y2="164.70" stroke="#262626" stroke-width="1.4" stroke-linecap="butt"/>
<line x1="477.00" y1="159.10" x2="477.00" y2="164.70" stroke="#262626" stroke-width="1.4" stroke-linecap="butt"/>
<text x="452.50" y="157.10" font-size="8.0" text-anchor="middle" fill="#101010" stroke="#101010" stroke-width="0.2" textLength="25.90" lengthAdjust="spacingAndGlyphs">Patients</text>
<text x="465.00" y="169.20" font-size="8" text-anchor="middle" fill="#101010" stroke="#101010" stroke-width="0.2">*</text>
<text x="385.80" y="241.80" font-size="8.2" text-anchor="end" fill="#101010" stroke="#101010" stroke-width="0.2" textLength="70.80" lengthAdjust="spacingAndGlyphs" transform="rotate(-45 385.80 241.80)">CD36-CD15+CD11b-</text>
<text x="412.50" y="241.80" font-size="8.2" text-anchor="end" fill="#101010" stroke="#101010" stroke-width="0.2" textLength="70.80" lengthAdjust="spacingAndGlyphs" transform="rotate(-45 412.50 241.80)">CD36-CD15+CD11b+</text>
<text x="439.70" y="241.80" font-size="8.2" text-anchor="end" fill="#101010" stroke="#101010" stroke-width="0.2" textLength="70.80" lengthAdjust="spacingAndGlyphs" transform="rotate(-45 439.70 241.80)">CD36-CD15+CD11b-</text>
<text x="466.60" y="241.80" font-size="8.2" text-anchor="end" fill="#101010" stroke="#101010" stroke-width="0.2" textLength="70.80" lengthAdjust="spacingAndGlyphs" transform="rotate(-45 466.60 241.80)">CD36-CD15+CD11b+</text>
<defs><filter id="bl" x="-30%" y="-150%" width="160%" height="400%"><feGaussianBlur stdDeviation="0.9 0.75"/></filter><filter id="bl2" x="-30%" y="-150%" width="160%" height="400%"><feGaussianBlur stdDeviation="0.8 0.6"/></filter><clipPath id="c1"><rect x="184.8" y="380.7" width="169.8" height="26.1"/></clipPath><clipPath id="c2"><rect x="184.8" y="412.3" width="170.6" height="26.5"/></clipPath></defs>
<rect x="184.8" y="380.7" width="169.8" height="26.1" fill="#cfcfcf"/>
<rect x="184.8" y="412.3" width="170.6" height="26.5" fill="#d3d3d3"/>
<g clip-path="url(#c1)"><g filter="url(#bl)">
<rect x="188.3" y="389.10" width="14.5" height="10.60" fill="#000" opacity="0.07"/>
<rect x="206.0" y="389.10" width="12.4" height="10.70" fill="#000" opacity="0.07"/>
<rect x="222.0" y="388.30" width="13.4" height="11.40" fill="#000" opacity="0.07"/>
<rect x="237.0" y="388.50" width="13.0" height="11.30" fill="#000" opacity="0.07"/>
<rect x="251.3" y="388.70" width="17.7" height="11.10" fill="#000" opacity="0.07"/>
<rect x="271.1" y="388.70" width="13.3" height="11.30" fill="#000" opacity="0.07"/>
<rect x="285.8" y="388.70" width="15.9" height="11.40" fill="#000" opacity="0.07"/>
<rect x="305.2" y="388.70" width="10.9" height="11.10" fill="#000" opacity="0.07"/>
<rect x="319.6" y="388.70" width="14.2" height="11.10" fill="#000" opacity="0.07"/>
<rect x="339.0" y="389.10" width="10.3" height="11.40" fill="#000" opacity="0.07"/>
<rect x="188.4" y="390.30" width="14.3" height="2.6" rx="1.2" fill="#0c0c0c" opacity="0.88"/>
<rect x="188.4" y="396.10" width="14.3" height="2.2" rx="1.2" fill="#0c0c0c" opacity="0.62"/>
<rect x="206.1" y="390.40" width="12.2" height="2.4" rx="1.2" fill="#0c0c0c" opacity="0.66"/>
<rect x="206.1" y="396.30" width="12.2" height="2.0" rx="1.2" fill="#0c0c0c" opacity="0.5"/>
<rect x="223.0" y="389.60" width="11.4" height="2.4" rx="1.2" fill="#0c0c0c" opacity="0.8"/>
<rect x="222.1" y="395.80" width="13.2" height="2.8" rx="1.2" fill="#0c0c0c" opacity="1.0"/>
<rect x="237.7" y="389.80" width="10.5" height="2.4" rx="1.2" fill="#0c0c0c" opacity="0.78"/>
<rect x="237.1" y="395.90" width="12.8" height="2.8" rx="1.2" fill="#0c0c0c" opacity="1.0"/>
<rect x="252.7" y="390.00" width="14.6" height="2.4" rx="1.2" fill="#0c0c0c" opacity="0.36"/>
<rect x="251.4" y="395.90" width="17.5" height="2.8" rx="1.2" fill="#0c0c0c" opacity="1.0"/>
<rect x="272.4" y="390.00" width="10.2" height="2.4" rx="1.2" fill="#0c0c0c" opacity="0.72"/>
<rect x="271.2" y="396.10" width="13.1" height="2.8" rx="1.2" fill="#0c0c0c" opacity="1.0"/>
<rect x="287.1" y="390.00" width="12.8" height="2.4" rx="1.2" fill="#0c0c0c" opacity="0.52"/>
<rect x="285.9" y="396.20" width="15.7" height="2.8" rx="1.2" fill="#0c0c0c" opacity="1.0"/>
<rect x="305.3" y="389.90" width="10.7" height="2.6" rx="1.2" fill="#0c0c0c" opacity="0.95"/>
<rect x="305.3" y="396.30" width="10.7" height="2.0" rx="1.2" fill="#0c0c0c" opacity="0.8"/>
<rect x="319.1" y="389.80" width="15.4" height="2.8" rx="1.2" fill="#0c0c0c" opacity="0.95"/>
<rect x="319.7" y="396.30" width="14.0" height="2.0" rx="1.2" fill="#0c0c0c" opacity="0.78"/>
<rect x="337.6" y="390.70" width="12.5" height="1.8" rx="1.2" fill="#0c0c0c" opacity="0.88"/>
<rect x="339.1" y="397.10" width="10.1" height="1.8" rx="1.2" fill="#0c0c0c" opacity="0.22"/>
</g></g>
<g clip-path="url(#c2)"><g filter="url(#bl2)">
<rect x="189.1" y="425.10" width="14.2" height="3.6" rx="1.8" fill="#050505"/>
<rect x="206.1" y="425.10" width="13.2" height="3.6" rx="1.8" fill="#050505"/>
<rect x="222.1" y="423.50" width="13.2" height="3.6" rx="1.8" fill="#050505"/>
<rect x="237.1" y="424.00" width="12.8" height="3.6" rx="1.8" fill="#050505"/>
<rect x="252.7" y="423.30" width="14.6" height="3.6" rx="1.8" fill="#050505"/>
<rect x="271.2" y="423.50" width="11.9" height="3.6" rx="1.8" fill="#050505"/>
<rect x="285.9" y="423.90" width="14.5" height="3.6" rx="1.8" fill="#050505"/>
<rect x="303.2" y="424.00" width="12.8" height="3.6" rx="1.8" fill="#050505"/>
<rect x="319.1" y="424.40" width="14.5" height="3.6" rx="1.8" fill="#050505"/>
<rect x="337.0" y="424.40" width="13.9" height="3.6" rx="1.8" fill="#050505"/>
</g></g>
<rect x="184.8" y="380.7" width="169.8" height="26.1" fill="none" stroke="#111" stroke-width="1.2"/>
<rect x="184.8" y="412.3" width="170.6" height="26.5" fill="none" stroke="#111" stroke-width="1.2"/>
<line x1="220.30" y1="380.70" x2="220.30" y2="406.80" stroke="#111" stroke-width="1.2" stroke-linecap="butt"/>
<line x1="220.30" y1="412.30" x2="220.30" y2="438.80" stroke="#111" stroke-width="1.2" stroke-linecap="butt"/>
<text x="199.50" y="377.40" font-size="8.6" text-anchor="start" fill="#101010" stroke="#101010" stroke-width="0.2" textLength="31.80" lengthAdjust="spacingAndGlyphs" transform="rotate(-69 199.50 377.40)" style="font-style:italic">Control F1</text>
<text x="216.30" y="377.40" font-size="8.6" text-anchor="start" fill="#101010" stroke="#101010" stroke-width="0.2" textLength="31.80" lengthAdjust="spacingAndGlyphs" transform="rotate(-69 216.30 377.40)" style="font-style:italic">Control F2</text>
<text x="231.60" y="377.40" font-size="8.6" text-anchor="start" fill="#101010" stroke="#101010" stroke-width="0.2" textLength="48.00" lengthAdjust="spacingAndGlyphs" transform="rotate(-69 231.60 377.40)" style="font-style:italic">P6 (Thr117del)</text>
<text x="246.80" y="377.40" font-size="8.6" text-anchor="start" fill="#101010" stroke="#101010" stroke-width="0.2" textLength="53.00" lengthAdjust="spacingAndGlyphs" transform="rotate(-69 246.80 377.40)" style="font-style:italic">P11 (Thr117 del)</text>
<text x="263.80" y="377.40" font-size="8.6" text-anchor="start" fill="#101010" stroke="#101010" stroke-width="0.2" textLength="51.40" lengthAdjust="spacingAndGlyphs" transform="rotate(-69 263.80 377.40)" style="font-style:italic">P16 (Cys118Tyr)</text>
<text x="280.80" y="377.40" font-size="8.6" text-anchor="start" fill="#101010" stroke="#101010" stroke-width="0.2" textLength="51.40" lengthAdjust="spacingAndGlyphs" transform="rotate(-69 280.80 377.40)" style="font-style:italic">P17 (Cys118Tyr)</text>
<text x="297.50" y="377.40" font-size="8.6" text-anchor="start" fill="#101010" stroke="#101010" stroke-width="0.2" textLength="50.90" lengthAdjust="spacingAndGlyphs" transform="rotate(-69 297.50 377.40)" style="font-style:italic">P10 (Thr117del)</text>
<text x="314.30" y="377.40" font-size="8.6" text-anchor="start" fill="#101010" stroke="#101010" stroke-width="0.2" textLength="51.40" lengthAdjust="spacingAndGlyphs" transform="rotate(-69 314.30 377.40)" style="font-style:italic">P19 (Cys136Tyr)</text>
<text x="331.30" y="377.40" font-size="8.6" text-anchor="start" fill="#101010" stroke="#101010" stroke-width="0.2" textLength="52.70" lengthAdjust="spacingAndGlyphs" transform="rotate(-69 331.30 377.40)" style="font-style:italic">P21 (Ala223Asp)</text>
<text x="348.00" y="377.40" font-size="8.6" text-anchor="start" fill="#101010" stroke="#101010" stroke-width="0.2" textLength="52.00" lengthAdjust="spacingAndGlyphs" transform="rotate(-69 348.00 377.40)" style="font-style:italic">P22 (Gly226Glu)</text>
<text x="152.00" y="393.00" font-size="8.6" text-anchor="start" fill="#101010" stroke="#101010" stroke-width="0.2" textLength="17.50" lengthAdjust="spacingAndGlyphs">LC3-I</text>
<text x="152.00" y="402.80" font-size="8.6" text-anchor="start" fill="#101010" stroke="#101010" stroke-width="0.2" textLength="19.60" lengthAdjust="spacingAndGlyphs">LC3-II</text>
<polygon points="175.5,387.4 183.0,390.8 175.5,394.2" fill="#0a0a0a"/>
<polygon points="175.5,393.4 183.0,396.8 175.5,400.2" fill="#0a0a0a"/>
<text x="358.00" y="396.90" font-size="8.6" text-anchor="start" fill="#101010" stroke="#101010" stroke-width="0.2" textLength="12.60" lengthAdjust="spacingAndGlyphs">LC3</text>
<text x="359.50" y="428.80" font-size="8.6" text-anchor="start" fill="#101010" stroke="#101010" stroke-width="0.2" textLength="24.60" lengthAdjust="spacingAndGlyphs">β-Actin</text>
<text x="156.40" y="447.00" font-size="8.4" text-anchor="middle" fill="#101010" stroke="#101010" stroke-width="0.2" textLength="50.80" lengthAdjust="spacingAndGlyphs">(LC3-II/β-Actin)</text>
<text x="156.30" y="457.00" font-size="8.4" text-anchor="middle" fill="#101010" stroke="#101010" stroke-width="0.2" textLength="14.60" lengthAdjust="spacingAndGlyphs">Fold</text>
<text x="194.50" y="448.90" font-size="8.0" text-anchor="middle" fill="#101010" stroke="#101010" stroke-width="0.2" textLength="9.80" lengthAdjust="spacingAndGlyphs">1.0</text>
<text x="210.20" y="448.90" font-size="8.0" text-anchor="middle" fill="#101010" stroke="#101010" stroke-width="0.2" textLength="9.80" lengthAdjust="spacingAndGlyphs">1.0</text>
<text x="227.20" y="448.90" font-size="8.0" text-anchor="middle" fill="#101010" stroke="#101010" stroke-width="0.2" textLength="9.80" lengthAdjust="spacingAndGlyphs">1.4</text>
<text x="243.50" y="448.90" font-size="8.0" text-anchor="middle" fill="#101010" stroke="#101010" stroke-width="0.2" textLength="9.80" lengthAdjust="spacingAndGlyphs">1.5</text>
<text x="258.20" y="448.90" font-size="8.0" text-anchor="middle" fill="#101010" stroke="#101010" stroke-width="0.2" textLength="9.80" lengthAdjust="spacingAndGlyphs">1.5</text>
<text x="275.70" y="448.90" font-size="8.0" text-anchor="middle" fill="#101010" stroke="#101010" stroke-width="0.2" textLength="9.80" lengthAdjust="spacingAndGlyphs">1.8</text>
<text x="291.50" y="448.90" font-size="8.0" text-anchor="middle" fill="#101010" stroke="#101010" stroke-width="0.2" textLength="9.80" lengthAdjust="spacingAndGlyphs">1.6</text>
<text x="309.00" y="448.90" font-size="8.0" text-anchor="middle" fill="#101010" stroke="#101010" stroke-width="0.2" textLength="9.80" lengthAdjust="spacingAndGlyphs">1.2</text>
<text x="325.20" y="448.90" font-size="8.0" text-anchor="middle" fill="#101010" stroke="#101010" stroke-width="0.2" textLength="9.80" lengthAdjust="spacingAndGlyphs">1.2</text>
<text x="342.70" y="448.90" font-size="8.0" text-anchor="middle" fill="#101010" stroke="#101010" stroke-width="0.2" textLength="9.80" lengthAdjust="spacingAndGlyphs">0.7</text>
<rect x="0" y="0" width="520" height="1.3" fill="#000"/>
<rect x="0" y="0" width="1.3" height="465" fill="#000"/>
<rect x="518.55" y="0" width="1.45" height="465" fill="#000"/>
<rect x="0" y="463.7" width="520" height="1.3" fill="#000"/>
</svg>
</body>
</html>
